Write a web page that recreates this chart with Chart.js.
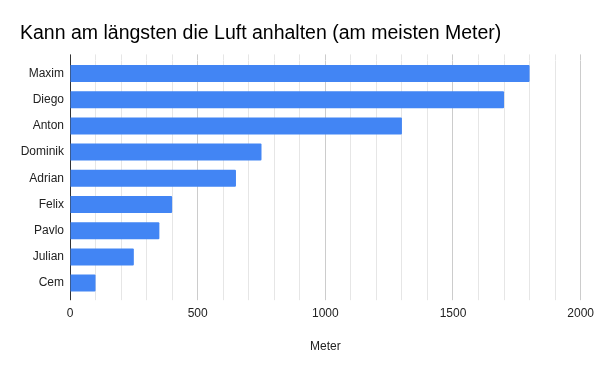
<!DOCTYPE html>
<html>
<head>
<meta charset="utf-8">
<script src="https://cdn.jsdelivr.net/npm/chart.js@4/dist/chart.umd.min.js"></script>
<style>
  html, body { margin: 0; padding: 0; background: #fff; }
  #wrap { width: 600px; height: 371px; position: relative; }
</style>
</head>
<body>
<div id="wrap"><canvas id="chart"></canvas></div>
<script>
const names = ['Maxim', 'Diego', 'Anton', 'Dominik', 'Adrian', 'Felix', 'Pavlo', 'Julian', 'Cem'];
const meters = [1800, 1700, 1300, 750, 650, 400, 350, 250, 100];
const xMax = 2000;
const majorStep = 500;
const minorStep = 100;

const FONT = '"Liberation Sans", Arial, sans-serif';

function gridColor(c) {
  if (!c.tick) return '#e6e6e6';
  if (c.tick.value === 0) return '#333333';
  return c.tick.value % majorStep === 0 ? '#cccccc' : '#e6e6e6';
}

new Chart(document.getElementById('chart'), {
  type: 'bar',
  data: {
    labels: names,
    datasets: [{ label: 'Meter', data: meters, backgroundColor: '#4285f4', borderRadius: 1,
      barPercentage: 0.65, categoryPercentage: 1 }]
  },
  options: {
    indexAxis: 'y',
    responsive: true,
    maintainAspectRatio: false,
    animation: false,
    layout: { padding: { left: 20, right: 19, top: 0, bottom: 17 } },
    plugins: {
      legend: { display: false },
      tooltip: { enabled: false },
      title: {
        display: true, text: 'Kann am längsten die Luft anhalten (am meisten Meter)',
        align: 'start', color: '#000',
        font: { family: FONT, size: 19.5, weight: 'normal' },
        padding: { top: 22, bottom: 9 }
      }
    },
    scales: {
      x: {
        min: 0, max: xMax,
        border: { display: false },
        grid: { color: gridColor, tickLength: 4 },
        ticks: {
          stepSize: minorStep, autoSkip: false, maxRotation: 0, padding: 6,
          color: '#222', font: { family: FONT, size: 12 },
          callback: v => v % majorStep === 0 ? v : ''
        },
        title: { display: true, text: 'Meter', color: '#222', font: { family: FONT, size: 12 },
          padding: { top: 13, bottom: 0 } }
      },
      xTop: {
        axis: 'x', position: 'top', min: 0, max: xMax,
        border: { display: false },
        grid: { color: gridColor, tickLength: 6, drawOnChartArea: false },
        ticks: { stepSize: minorStep, autoSkip: false, display: false, padding: 0 }
      },
      y: {
        border: { display: true, color: '#333', width: 1 },
        grid: { display: false, drawTicks: false },
        ticks: { padding: 6, color: '#222', font: { family: FONT, size: 12 } },
        afterFit: s => { s.width = 50; }
      }
    }
  }
});
</script>
</body>
</html>
